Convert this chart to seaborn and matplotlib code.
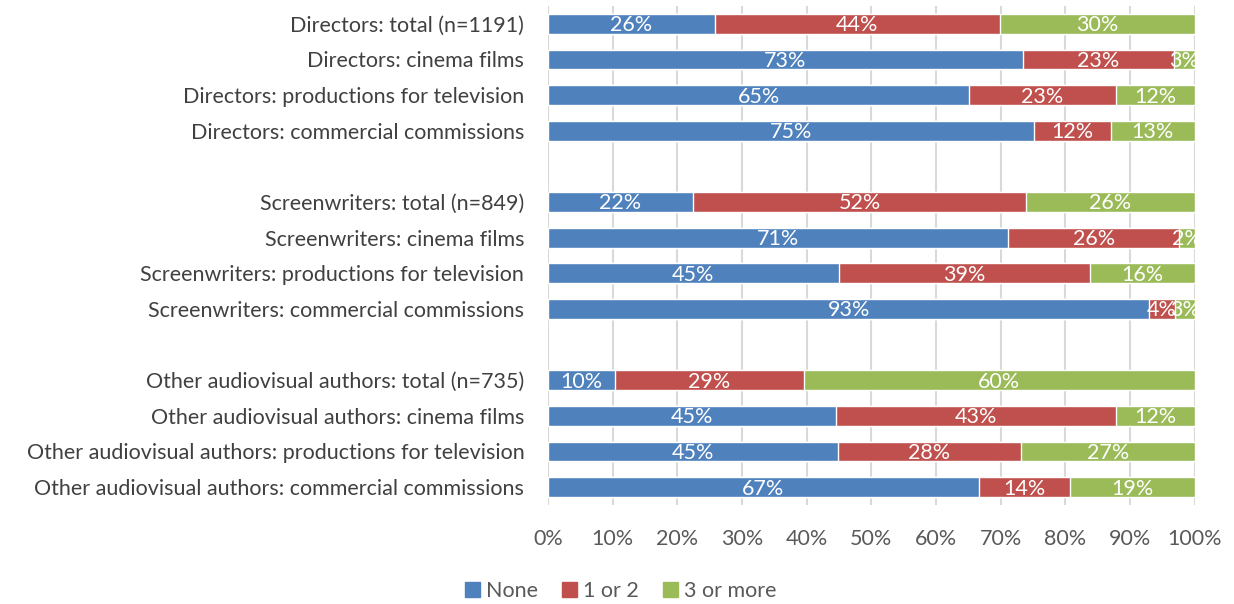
import numpy as np
import pandas as pd
import matplotlib
matplotlib.use("Agg")
import matplotlib.pyplot as plt
from matplotlib.patches import Patch
import seaborn as sns

# --- data (percent of respondents) ---
row_labels = [
    "Directors: total (n=1191)",
    "Directors: cinema films",
    "Directors: productions for television",
    "Directors: commercial commissions",
    "Screenwriters: total (n=849)",
    "Screenwriters: cinema films",
    "Screenwriters: productions for television",
    "Screenwriters: commercial commissions",
    "Other audiovisual authors: total (n=735)",
    "Other audiovisual authors: cinema films",
    "Other audiovisual authors: productions for television",
    "Other audiovisual authors: commercial commissions",
]
none_vals = [25.8, 73.4, 65.2, 75.2, 22.4, 71.2, 45.0, 93.0, 10.4, 44.6, 44.8, 66.6]
one_two_vals = [44.1, 23.4, 22.6, 11.9, 51.6, 26.4, 38.9, 4.0, 29.2, 43.2, 28.4, 14.1]
three_vals = [30.1, 3.2, 12.2, 12.9, 26.0, 2.4, 16.1, 3.0, 60.4, 12.2, 26.8, 19.3]
series_names = ["None", "1 or 2", "3 or more"]
colors = ["#4F81BD", "#C0504D", "#9BBB59"]

# slot positions, leaving an empty slot between groups
positions = [0, 1, 2, 3, 5, 6, 7, 8, 10, 11, 12, 13]

df = pd.DataFrame({"label": row_labels, "pos": positions,
                   "None": none_vals, "1 or 2": one_two_vals, "3 or more": three_vals})
df["c1"] = df["None"]
df["c2"] = df["None"] + df["1 or 2"]
df["c3"] = df["c2"] + df["3 or more"]

sns.set_style("white")
plt.rcParams["font.family"] = ["Lato", "DejaVu Sans"]
fs = 15.5

fig = plt.figure(figsize=(12.34, 6.04), dpi=100)
ax = fig.add_axes([0.444, 0.164, 0.524, 0.826])

# stacked bars: draw cumulative totals from back to front
for col, c in zip(["c3", "c2", "c1"], colors[::-1]):
    sns.barplot(data=df, x=col, y="pos", orient="y", native_scale=True,
                color=c, saturation=1, width=0.56, ax=ax, zorder=3)

# value labels centered in each segment
for _, r in df.iterrows():
    starts = [0, r["c1"], r["c2"]]
    for s, name in zip(starts, series_names):
        v = r[name]
        ax.text(s + v / 2, r["pos"] + 0.04, f"{round(v):d}%", ha="center", va="center",
                color="white", fontsize=fs, zorder=4)

ax.set_xlim(0, 100)
ax.set_ylim(13.5, -0.5)
ax.set_xticks(np.arange(0, 101, 10))
ax.set_xticklabels([f"{t}%" for t in range(0, 101, 10)])
ax.set_yticks(positions)
ax.set_yticklabels(row_labels)
ax.grid(axis="x", color="#D9D9D9", linewidth=1.5, zorder=0)
ax.set_axisbelow(True)
for sp in ax.spines.values():
    sp.set_visible(False)
ax.tick_params(axis="y", length=0, pad=17, labelsize=fs, labelcolor="#404040")
ax.tick_params(axis="x", length=0, pad=17, labelsize=fs, labelcolor="#595959")
ax.set_xlabel("")
ax.set_ylabel("")

handles = [Patch(color=c) for c in colors]
fig.legend(handles, series_names, loc="center", bbox_to_anchor=(0.503, 0.022), ncol=3,
           frameon=False, fontsize=fs, handlelength=0.7, handleheight=0.7,
           handletextpad=0.3, columnspacing=1.1, labelcolor="#595959")

fig.savefig("out.png", dpi=100)
